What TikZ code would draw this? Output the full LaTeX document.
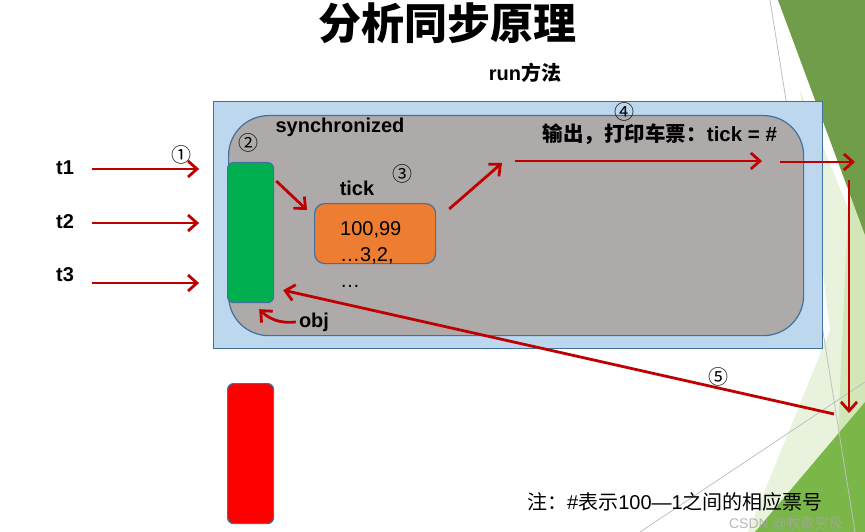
\documentclass[tikz,border=0pt]{standalone}
\usepackage{fontspec}
\setmainfont{Liberation Sans}
\newfontfamily\cjk{Noto Sans CJK SC}
\usetikzlibrary{arrows.meta,calc,positioning}
\definecolor{arrowred}{HTML}{C00000}
\definecolor{boxblue}{HTML}{BDD7EE}
\definecolor{edgeblue}{HTML}{41719C}
\definecolor{syncgray}{HTML}{AEAAAA}
\definecolor{objgreen}{HTML}{00B050}
\definecolor{tickorange}{HTML}{ED7D31}
\definecolor{leafdark}{HTML}{6F9D4A}
\definecolor{leafmid}{HTML}{7AB648}
\definecolor{leaflight}{HTML}{D3E6B8}
\definecolor{leafpale}{HTML}{E9F2DC}
\tikzset{>={Straight Barb[length=9pt,width=16pt]},
  every node/.style={font=\fontsize{20}{24}\selectfont},
  flow/.style={->,draw=arrowred,line width=2.8pt},
  lbl/.style={font=\bfseries\fontsize{20}{24}\selectfont,inner sep=0pt},
  num/.style={font=\cjk\fontsize{20}{20}\selectfont,inner sep=0pt},
  panel/.style={draw=edgeblue,line width=1.2pt,anchor=north west,inner sep=0pt},
  lock/.style={panel,rounded corners=6pt,minimum width=46pt,minimum height=140pt}}
\begin{document}
\begin{tikzpicture}[x=1pt,y=-1pt]
\useasboundingbox (0,0) rectangle (865,532);
% slide decoration
\fill[leafpale] (800,90)--(865,250)--(865,532)--(748,532)--(830,330)--cycle;
\fill[leaflight] (850,165)--(865,210)--(865,402)--(838,434)--cycle;
\fill[leafdark] (778,0)--(865,0)--(865,235)--cycle;
\fill[leafmid] (755,532)--(865,402)--(865,532)--cycle;
\draw[black!25,line width=.8pt] (770,0)--(855,532) (640,532)--(865,382);
% boxes
\node[panel,fill=boxblue,minimum width=609pt,minimum height=247pt] (run) at (213,101) {};
\node[panel,fill=syncgray,rounded corners=40pt,minimum width=575pt,minimum height=220pt] (sync) at (228,115) {};
\node[lock,fill=objgreen] (gate) at (227,162) {};
\node[lock,fill=red] (wait) at (227,383) {};
\node[panel,fill=tickorange,rounded corners=10pt,minimum width=121pt,minimum height=60pt] (ticks) at (314,203) {};
\node[anchor=north west,align=left,inner sep=0pt,font=\fontsize{20}{26}\selectfont] (nums) at (340,221) {100,99\\…3,2,\\…};
% texts
\node[font=\cjk\bfseries\fontsize{43}{43}\selectfont] (title) at (447,23) {分析同步原理};
\node[lbl,font=\bfseries\fontsize{20}{22}\selectfont] (method) at (525,73) {run{\cjk 方法}};
\node[lbl] (synclabel) at (340,127) {synchronized};
\node[lbl] (tickname) at (357,188) {tick};
\node[lbl] (obj) at (314,322) {obj};
\node[lbl,font=\bfseries\fontsize{20.5}{24}\selectfont] (printline) at (660,134) {{\cjk 输出，打印车票：}tick = \#};
\node[lbl] (t1) at (65,168) {t1};
\node[lbl] (t2) at (65,222) {t2};
\node[lbl] (t3) at (65,275) {t3};
\node[num] (s1) at (181,155) {①};
\node[num] (s2) at (248,143) {②};
\node[num] (s3) at (402,174) {③};
\node[num] (s4) at (624,112) {④};
\node[num] (s5) at (718,377) {⑤};
\node (note) at (675,502) {{\cjk 注：}\#{\cjk 表示}100—1{\cjk 之间的相应票号}};
\node[font=\fontsize{14}{14}\selectfont,text=black!35,opacity=.8] (mark) at (786,524) {CSDN @{\cjk 牧歌穷极}};
% connectors
\coordinate (p4) at (502,163);
\coordinate (q4a) at (515,161);\coordinate (q4b) at (762,161);
\coordinate (q5a) at (780,162);\coordinate (q5b) at (855,162);
\coordinate (d5a) at (849,180);\coordinate (d5b) at (849,413);
\coordinate (r5) at (834,414);
\draw[flow] ([xshift=18pt,yshift=-1pt]t1.east) -- ++(107,0);
\draw[flow] ([xshift=18pt,yshift=-1pt]t2.east) -- ++(107,0);
\draw[flow] ([xshift=18pt,yshift=-8pt]t3.east) -- ++(107,0);
\draw[flow] ([xshift=2pt,yshift=-19pt]gate.north east) -- ([xshift=-7pt,yshift=-7pt]ticks.north west);
\draw[flow] ([xshift=13pt,yshift=-6pt]ticks.north east) -- (p4);
\draw[flow] (q4a) -- (q4b);
\draw[flow] (q5a) -- (q5b);
\draw[flow] (d5a) -- (d5b);
\draw[flow] (r5) -- ([xshift=9pt,yshift=13pt]gate.south east);
\draw[flow] ([xshift=-3pt]obj.west) to[bend left=25] ([xshift=-15pt,yshift=-6pt]gate.south east);
\end{tikzpicture}
\end{document}
